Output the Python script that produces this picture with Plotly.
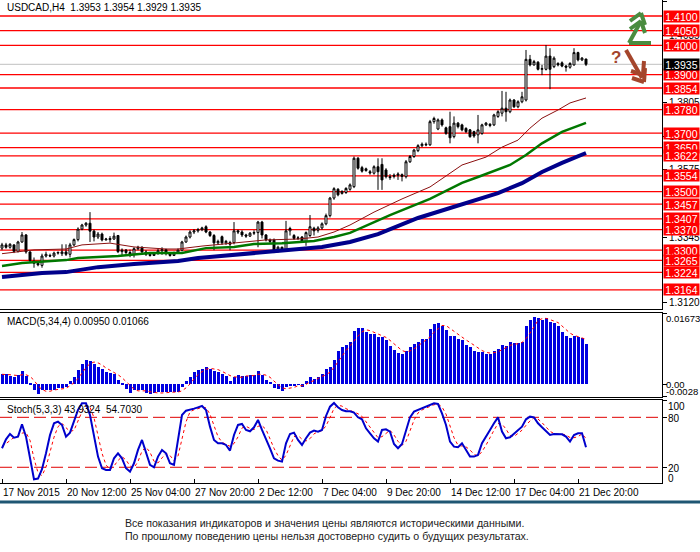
import plotly.graph_objects as go

W, H = 700, 552


def px(x):
    return x / W


def py(y):
    return 1 - y / H


# ---- price data (H4 bars, 17 Nov 20:00 .. 22 Dec 04:00) ----
opens = [1.3307, 1.3318, 1.3310, 1.3318, 1.3296, 1.3328, 1.3352, 1.3294, 1.3262, 1.3255,
         1.3248, 1.3280, 1.3282, 1.3280, 1.3290, 1.3288, 1.3294, 1.3286, 1.3318, 1.3336,
         1.3372, 1.3386, 1.3392, 1.3365, 1.3345, 1.3355, 1.3335, 1.3340, 1.3338, 1.3350,
         1.3295, 1.3300, 1.3292, 1.3285, 1.3305, 1.3310, 1.3294, 1.3286, 1.3282, 1.3288,
         1.3298, 1.3302, 1.3288, 1.3282, 1.3290, 1.3300, 1.3328, 1.3345, 1.3362, 1.3366,
         1.3370, 1.3380, 1.3362, 1.3350, 1.3325, 1.3346, 1.3325, 1.3320, 1.3326, 1.3366,
         1.3362, 1.3352, 1.3348, 1.3358, 1.3360, 1.3396, 1.3352, 1.3335, 1.3335, 1.3300,
         1.3310, 1.3300, 1.3366, 1.3350, 1.3340, 1.3345, 1.3330, 1.3350, 1.3375, 1.3368,
         1.3376, 1.3390, 1.3418, 1.3478, 1.3508, 1.3494, 1.3497, 1.3508, 1.3517, 1.3614,
         1.3582, 1.3572, 1.3568, 1.3563, 1.3585, 1.3593, 1.3574, 1.3551, 1.3552, 1.3556,
         1.3558, 1.3551, 1.3602, 1.3620, 1.3640, 1.3657, 1.3662, 1.3660, 1.3739, 1.3714,
         1.3745, 1.3718, 1.3722, 1.3688, 1.3734, 1.3728, 1.3716, 1.3711, 1.3705, 1.3694,
         1.3699, 1.3728, 1.3730, 1.3728, 1.3757, 1.3768, 1.3785, 1.3773, 1.3813, 1.3790,
         1.3807, 1.3813, 1.3952, 1.3933, 1.3942, 1.3918, 1.3918, 1.3963, 1.3927, 1.3938,
         1.3940, 1.3929, 1.3925, 1.3933, 1.3975, 1.3950, 1.3953]
highs = [1.3325, 1.3325, 1.3324, 1.3320, 1.3332, 1.3362, 1.3355, 1.3296, 1.3275, 1.3262,
         1.3288, 1.3295, 1.3288, 1.3295, 1.3296, 1.3320, 1.3320, 1.3325, 1.3340, 1.3378,
         1.3390, 1.3396, 1.3430, 1.3370, 1.3362, 1.3360, 1.3342, 1.3348, 1.3360, 1.3352,
         1.3306, 1.3304, 1.3302, 1.3310, 1.3315, 1.3313, 1.3300, 1.3292, 1.3294, 1.3304,
         1.3310, 1.3305, 1.3292, 1.3295, 1.3306, 1.3332, 1.3350, 1.3368, 1.3372, 1.3376,
         1.3380, 1.3385, 1.3365, 1.3355, 1.3336, 1.3350, 1.3335, 1.3332, 1.3396, 1.3370,
         1.3368, 1.3356, 1.3362, 1.3368, 1.3400, 1.3400, 1.3355, 1.3340, 1.3340, 1.3315,
         1.3312, 1.3400, 1.3380, 1.3355, 1.3348, 1.3348, 1.3364, 1.3420, 1.3380, 1.3382,
         1.3395, 1.3425, 1.3482, 1.3515, 1.3512, 1.3505, 1.3515, 1.3528, 1.3620, 1.3618,
         1.3588, 1.3582, 1.3574, 1.3590, 1.3614, 1.3614, 1.3580, 1.3560, 1.3562, 1.3566,
         1.3562, 1.3608, 1.3625, 1.3646, 1.3662, 1.3668, 1.3668, 1.3745, 1.3756, 1.3750,
         1.3750, 1.3722, 1.3773, 1.3757, 1.3738, 1.3732, 1.3720, 1.3714, 1.3708, 1.3762,
         1.3732, 1.3738, 1.3734, 1.3766, 1.3778, 1.3844, 1.3841, 1.3818, 1.3816, 1.3812,
         1.3841, 1.3984, 1.3967, 1.3950, 1.3946, 1.3933, 1.4001, 1.3990, 1.3962, 1.3942,
         1.3945, 1.3932, 1.3942, 1.3990, 1.3978, 1.3960, 1.3954]
lows = [1.3300, 1.3305, 1.3305, 1.3290, 1.3292, 1.3325, 1.3288, 1.3258, 1.3240, 1.3245,
        1.3240, 1.3275, 1.3276, 1.3275, 1.3285, 1.3280, 1.3280, 1.3275, 1.3314, 1.3330,
        1.3368, 1.3380, 1.3328, 1.3330, 1.3338, 1.3330, 1.3333, 1.3326, 1.3335, 1.3290,
        1.3282, 1.3285, 1.3276, 1.3275, 1.3300, 1.3288, 1.3280, 1.3278, 1.3280, 1.3285,
        1.3284, 1.3282, 1.3278, 1.3280, 1.3287, 1.3296, 1.3325, 1.3340, 1.3355, 1.3360,
        1.3365, 1.3358, 1.3345, 1.3300, 1.3320, 1.3318, 1.3318, 1.3300, 1.3320, 1.3355,
        1.3345, 1.3342, 1.3345, 1.3352, 1.3310, 1.3340, 1.3330, 1.3322, 1.3290, 1.3292,
        1.3296, 1.3295, 1.3350, 1.3335, 1.3335, 1.3325, 1.3315, 1.3345, 1.3350, 1.3360,
        1.3370, 1.3385, 1.3412, 1.3472, 1.3484, 1.3490, 1.3492, 1.3503, 1.3512, 1.3575,
        1.3565, 1.3568, 1.3558, 1.3558, 1.3506, 1.3506, 1.3545, 1.3540, 1.3545, 1.3540,
        1.3535, 1.3545, 1.3598, 1.3615, 1.3635, 1.3652, 1.3655, 1.3656, 1.3732, 1.3710,
        1.3722, 1.3694, 1.3665, 1.3682, 1.3716, 1.3706, 1.3700, 1.3684, 1.3684, 1.3665,
        1.3694, 1.3724, 1.3720, 1.3724, 1.3752, 1.3757, 1.3739, 1.3768, 1.3786, 1.3785,
        1.3802, 1.3808, 1.3928, 1.3930, 1.3914, 1.3898, 1.3914, 1.3850, 1.3922, 1.3928,
        1.3925, 1.3910, 1.3920, 1.3930, 1.3945, 1.3946, 1.3929]
closes = [1.3318, 1.3310, 1.3320, 1.3296, 1.3328, 1.3352, 1.3294, 1.3265, 1.3255, 1.3250,
          1.3280, 1.3286, 1.3280, 1.3290, 1.3292, 1.3294, 1.3286, 1.3318, 1.3336, 1.3372,
          1.3386, 1.3392, 1.3365, 1.3345, 1.3355, 1.3335, 1.3338, 1.3336, 1.3348, 1.3295,
          1.3300, 1.3292, 1.3285, 1.3305, 1.3310, 1.3294, 1.3286, 1.3282, 1.3288, 1.3298,
          1.3302, 1.3288, 1.3282, 1.3290, 1.3300, 1.3328, 1.3345, 1.3362, 1.3366, 1.3370,
          1.3376, 1.3362, 1.3350, 1.3325, 1.3330, 1.3325, 1.3330, 1.3326, 1.3366, 1.3362,
          1.3352, 1.3348, 1.3358, 1.3360, 1.3396, 1.3352, 1.3335, 1.3330, 1.3300, 1.3310,
          1.3302, 1.3366, 1.3374, 1.3340, 1.3342, 1.3330, 1.3360, 1.3380, 1.3366, 1.3376,
          1.3390, 1.3418, 1.3478, 1.3510, 1.3489, 1.3500, 1.3511, 1.3523, 1.3614, 1.3580,
          1.3570, 1.3578, 1.3564, 1.3585, 1.3568, 1.3540, 1.3551, 1.3548, 1.3556, 1.3560,
          1.3552, 1.3602, 1.3620, 1.3642, 1.3657, 1.3662, 1.3660, 1.3739, 1.3750, 1.3745,
          1.3728, 1.3699, 1.3684, 1.3734, 1.3722, 1.3711, 1.3705, 1.3688, 1.3690, 1.3711,
          1.3728, 1.3734, 1.3726, 1.3762, 1.3773, 1.3785, 1.3773, 1.3813, 1.3790, 1.3807,
          1.3824, 1.3952, 1.3933, 1.3944, 1.3918, 1.3920, 1.3963, 1.3918, 1.3956, 1.3933,
          1.3929, 1.3925, 1.3938, 1.3975, 1.3950, 1.3956, 1.3935]

# moving averages (read at a few bars)
ma_fast_idx = [0, 8, 16, 20, 27, 33, 41, 44, 50, 58, 66, 74, 79, 83, 87, 93, 100, 107,
               112, 115, 121, 125, 129, 132, 135, 139, 142, 146]
ma_fast = [1.3288, 1.3301, 1.3304, 1.3318, 1.3324, 1.3311, 1.3304, 1.3304, 1.3314, 1.3324,
           1.3335, 1.3338, 1.3345, 1.3362, 1.3386, 1.3430, 1.3475, 1.3516, 1.3564, 1.3591,
           1.3618, 1.3652, 1.3676, 1.3717, 1.3751, 1.3779, 1.3803, 1.3820]
ma_mid_idx = [0, 5, 16, 19, 24, 29, 37, 45, 51, 58, 63, 70, 78, 83, 87, 97, 107, 115,
              119, 127, 131, 135, 140, 146]
ma_mid = [1.3246, 1.3256, 1.3266, 1.3273, 1.3277, 1.3280, 1.3290, 1.3290, 1.3307, 1.3311,
          1.3321, 1.3324, 1.3331, 1.3345, 1.3359, 1.3420, 1.3475, 1.3530, 1.3550, 1.3591,
          1.3625, 1.3665, 1.3704, 1.3735]
ma_slow_idx = [0, 10, 16, 24, 33, 44, 49, 58, 66, 74, 80, 87, 94, 104, 112, 119, 124,
               130, 135, 140, 146]
ma_slow = [1.3208, 1.3222, 1.3225, 1.3242, 1.3253, 1.3263, 1.3273, 1.3284, 1.3294, 1.3301,
           1.3311, 1.3328, 1.3355, 1.3410, 1.3444, 1.3475, 1.3495, 1.3529, 1.3567, 1.3598,
           1.3632]

levels = [1.4100, 1.4050, 1.4000, 1.3900, 1.3854, 1.3780, 1.3700, 1.3650, 1.3622,
          1.3554, 1.3500, 1.3457, 1.3407, 1.3370, 1.3300, 1.3265, 1.3224, 1.3164]
price_ticks = [1.3120, 1.3345, 1.3575, 1.3690, 1.3805, 1.4035, 1.4150]

# ---- MACD(5,34,4) ----
macd_hist = [0.0025, 0.0025, 0.0019, 0.0018, 0.0022, 0.0031, 0.0020, 0.0003, -0.0014, -0.0022,
             -0.0013, -0.0014, -0.0013, -0.0012, -0.0009, -0.0008, -0.0005, 0.0009, 0.0018, 0.0035,
             0.0049, 0.0057, 0.0055, 0.0049, 0.0042, 0.0037, 0.0029, 0.0027, 0.0024, 0.0011,
             0.0003, -0.0011, -0.0020, -0.0014, -0.0013, -0.0014, -0.0020, -0.0022, -0.0020, -0.0018,
             -0.0018, -0.0018, -0.0018, -0.0017, -0.0017, -0.0006, 0.0009, 0.0018, 0.0029, 0.0035,
             0.0037, 0.0041, 0.0037, 0.0031, 0.0029, 0.0025, 0.0019, 0.0009, 0.0018, 0.0022,
             0.0019, 0.0019, 0.0022, 0.0022, 0.0031, 0.0022, 0.0011, 0.0005, -0.0008, -0.0011,
             -0.0016, -0.0005, -0.0004, -0.0004, 0.0001, -0.0006, 0.0009, 0.0018, 0.0014, 0.0018,
             0.0024, 0.0037, 0.0041, 0.0057, 0.0080, 0.0088, 0.0094, 0.0101, 0.0127, 0.0133,
             0.0133, 0.0123, 0.0119, 0.0118, 0.0111, 0.0111, 0.0104, 0.0090, 0.0082, 0.0074,
             0.0072, 0.0080, 0.0088, 0.0096, 0.0100, 0.0108, 0.0108, 0.0131, 0.0143, 0.0144,
             0.0139, 0.0129, 0.0115, 0.0115, 0.0108, 0.0104, 0.0094, 0.0088, 0.0080, 0.0076,
             0.0076, 0.0072, 0.0072, 0.0080, 0.0084, 0.0092, 0.0090, 0.0100, 0.0097, 0.0097,
             0.0100, 0.0137, 0.0151, 0.0160, 0.0157, 0.0151, 0.0157, 0.0147, 0.0144, 0.0137,
             0.0123, 0.0115, 0.0109, 0.0115, 0.0111, 0.0110, 0.00950]
macd_signal = [0.0024, 0.0024, 0.0023, 0.0022, 0.0021, 0.0023, 0.0023, 0.0019, 0.0010, -0.0003,
               -0.0012, -0.0016, -0.0016, -0.0013, -0.0012, -0.0011, -0.0009, -0.0003, 0.0004, 0.0014,
               0.0028, 0.0040, 0.0049, 0.0053, 0.0051, 0.0046, 0.0039, 0.0034, 0.0029, 0.0023,
               0.0016, 0.0007, -0.0004, -0.0011, -0.0015, -0.0015, -0.0015, -0.0017, -0.0019, -0.0020,
               -0.0020, -0.0019, -0.0018, -0.0018, -0.0018, -0.0015, -0.0008, 0.0001, 0.0013, 0.0023,
               0.0030, 0.0036, 0.0038, 0.0037, 0.0035, 0.0031, 0.0026, 0.0021, 0.0018, 0.0017,
               0.0017, 0.0020, 0.0021, 0.0021, 0.0024, 0.0024, 0.0022, 0.0017, 0.0008, -0.0001,
               -0.0008, -0.0010, -0.0009, -0.0007, -0.0003, -0.0003, 0.0000, 0.0006, 0.0009, 0.0015,
               0.0019, 0.0023, 0.0029, 0.0040, 0.0054, 0.0067, 0.0080, 0.0091, 0.0103, 0.0114,
               0.0124, 0.0129, 0.0127, 0.0123, 0.0118, 0.0115, 0.0111, 0.0104, 0.0097, 0.0088,
               0.0080, 0.0077, 0.0079, 0.0084, 0.0091, 0.0098, 0.0103, 0.0112, 0.0123, 0.0132,
               0.0139, 0.0139, 0.0132, 0.0125, 0.0117, 0.0111, 0.0105, 0.0099, 0.0092, 0.0085,
               0.0080, 0.0076, 0.0074, 0.0075, 0.0077, 0.0082, 0.0087, 0.0092, 0.0095, 0.0096,
               0.0099, 0.0108, 0.0121, 0.0137, 0.0151, 0.0155, 0.0156, 0.0153, 0.0150, 0.0146,
               0.0138, 0.0130, 0.0121, 0.0116, 0.0113, 0.0111, 0.01066]

# ---- Stochastic(5,3,3) ----
stoch_k = [42.8, 53.6, 60.0, 55.6, 56.8, 71.6, 56.8, 28.8, 5.6, 6.4,
           17.6, 36.8, 58.8, 72.8, 74.8, 70.8, 56.8, 61.6, 74.8, 88.8,
           96.8, 96.8, 82.8, 58.8, 32.8, 18.8, 16.8, 16.8, 30.8, 36.8,
           30.8, 18.8, 14.8, 24.8, 40.8, 52.8, 38.8, 22.8, 20.0, 32.8,
           40.8, 36.8, 24.8, 22.8, 52.8, 82.8, 88.0, 88.8, 90.4, 92.0,
           93.6, 88.8, 68.8, 52.8, 48.8, 48.8, 46.8, 40.0, 58.8, 70.8,
           72.0, 64.8, 63.2, 68.0, 76.8, 64.8, 54.8, 42.8, 30.8, 28.0,
           26.8, 48.8, 60.0, 61.6, 52.8, 46.8, 54.8, 61.6, 64.0, 62.8,
           64.8, 81.6, 92.8, 97.2, 92.0, 88.8, 87.2, 87.2, 85.6, 80.0,
           77.6, 66.8, 60.8, 54.8, 50.8, 64.8, 65.6, 62.8, 48.0, 42.8,
           48.0, 62.8, 80.0, 86.8, 88.8, 90.8, 93.6, 94.8, 96.8, 96.0,
           84.8, 70.8, 50.8, 44.8, 44.0, 48.8, 40.8, 32.8, 32.8, 34.8,
           48.8, 56.0, 64.8, 72.8, 80.0, 62.8, 54.8, 56.0, 60.0, 64.8,
           68.8, 77.6, 80.8, 80.0, 72.8, 68.0, 62.8, 58.8, 60.0, 60.0,
           59.6, 56.8, 50.8, 58.8, 60.8, 60.8, 43.9324]
stoch_d = [45.0, 48.0, 52.0, 56.0, 57.5, 61.0, 61.7, 52.4, 30.4, 13.6,
           9.9, 20.3, 37.7, 56.1, 68.8, 72.8, 67.5, 63.1, 64.4, 75.1,
           86.8, 94.1, 92.1, 79.5, 58.1, 36.8, 22.8, 17.5, 21.5, 28.1,
           32.8, 28.8, 21.5, 19.5, 26.8, 39.5, 44.1, 38.1, 27.2, 25.2,
           31.2, 36.8, 34.1, 28.1, 33.5, 52.8, 74.5, 86.5, 89.1, 90.4,
           92.0, 91.5, 83.7, 70.1, 56.8, 50.1, 48.1, 45.2, 48.5, 56.5,
           67.2, 69.2, 66.7, 65.3, 69.3, 69.9, 65.5, 54.1, 42.8, 33.9,
           28.5, 34.5, 45.2, 56.8, 58.1, 53.7, 51.5, 54.4, 60.1, 62.8,
           63.9, 69.7, 79.7, 90.7, 94.4, 93.5, 90.4, 88.3, 86.7, 84.3,
           81.1, 74.8, 68.4, 60.8, 55.5, 56.8, 60.4, 64.4, 58.8, 51.2,
           46.3, 51.2, 63.6, 76.5, 85.2, 88.8, 91.1, 93.1, 95.1, 95.9,
           92.5, 83.9, 68.8, 55.5, 46.5, 45.9, 44.5, 40.8, 35.5, 33.5,
           38.8, 46.5, 56.5, 64.5, 72.5, 71.9, 65.9, 57.9, 56.9, 60.3,
           64.5, 70.4, 75.7, 79.5, 77.9, 73.6, 67.9, 63.2, 60.5, 59.6,
           59.9, 58.8, 55.7, 55.5, 56.8, 60.1, 54.7030]

time_ticks = [0, 16, 32, 48, 64, 80, 96, 112, 128, 144]
time_labels = ["17 Nov 2015", "20 Nov 12:00", "25 Nov 04:00", "27 Nov 20:00", "2 Dec 12:00",
               "7 Dec 04:00", "9 Dec 20:00", "14 Dec 12:00", "17 Dec 04:00", "21 Dec 20:00"]

bars = list(range(len(closes)))
FONT = "Liberation Sans"

fig = go.Figure()

for lv in levels:
    fig.add_shape(type="line", xref="x", yref="y", x0=-0.5, x1=165, y0=lv, y1=lv,
                  line=dict(color="#ff0000", width=1.3), layer="below")
fig.add_shape(type="line", xref="x", yref="y", x0=-0.5, x1=165, y0=closes[-1], y1=closes[-1],
              line=dict(color="#c0c0c0", width=1), layer="below")

fig.add_trace(go.Scatter(x=ma_slow_idx, y=ma_slow, mode="lines", xaxis="x", yaxis="y",
                         line=dict(color="#00008b", width=4), showlegend=False, hoverinfo="skip"))
fig.add_trace(go.Scatter(x=ma_mid_idx, y=ma_mid, mode="lines", xaxis="x", yaxis="y",
                         line=dict(color="#007800", width=2.5), showlegend=False, hoverinfo="skip"))
fig.add_trace(go.Scatter(x=ma_fast_idx, y=ma_fast, mode="lines", xaxis="x", yaxis="y",
                         line=dict(color="#8b1010", width=1), showlegend=False, hoverinfo="skip"))

fig.add_trace(go.Candlestick(
    x=bars, open=opens, high=highs, low=lows, close=closes, xaxis="x", yaxis="y",
    increasing=dict(line=dict(color="black", width=1), fillcolor="white"),
    decreasing=dict(line=dict(color="black", width=1), fillcolor="black"),
    whiskerwidth=0, showlegend=False, hoverinfo="skip"))

fig.add_trace(go.Bar(x=bars, y=macd_hist, xaxis="x2", yaxis="y2", width=0.75,
                     marker=dict(color="#0000e0", line=dict(width=0)),
                     showlegend=False, hoverinfo="skip"))
fig.add_trace(go.Scatter(x=bars, y=macd_signal, mode="lines", xaxis="x2", yaxis="y2",
                         line=dict(color="#ff0000", width=1, dash="dot"),
                         showlegend=False, hoverinfo="skip"))

for lv in (80, 20):
    fig.add_shape(type="line", xref="x3", yref="y3", x0=-0.5, x1=165, y0=lv, y1=lv,
                  line=dict(color="#e00000", width=1, dash="12px,5px"), layer="below")
fig.add_trace(go.Scatter(x=bars, y=stoch_d, mode="lines", xaxis="x3", yaxis="y3",
                         line=dict(color="#ff0000", width=1, dash="dot"),
                         showlegend=False, hoverinfo="skip"))
fig.add_trace(go.Scatter(x=bars, y=stoch_k, mode="lines", xaxis="x3", yaxis="y3",
                         line=dict(color="#0000cc", width=2),
                         showlegend=False, hoverinfo="skip"))

xdom = [0, px(662)]
xr = [-0.5, 165]
frame = dict(showline=True, mirror=True, linecolor="black", linewidth=1,
             showgrid=False, zeroline=False, automargin=False)
tfont = dict(family=FONT, size=10, color="black")

fig.update_layout(
    width=W, height=H, margin=dict(l=0, r=0, t=0, b=0),
    paper_bgcolor="white", plot_bgcolor="white", bargap=0,
    xaxis=dict(domain=xdom, range=xr, anchor="y", showticklabels=False,
               rangeslider=dict(visible=False), **frame),
    yaxis=dict(domain=[py(309), py(0)], range=[1.3099, 1.41547], anchor="x", side="right",
               tickvals=price_ticks, tickformat=".4f", ticks="outside", ticklen=4,
               tickcolor="black", tickfont=tfont, **frame),
    xaxis2=dict(domain=xdom, range=xr, anchor="y2", matches="x", showticklabels=False, **frame),
    yaxis2=dict(domain=[py(397), py(313)], range=[-0.00295, 0.01685], anchor="x2", side="right",
                tickvals=[0.01673, 0.0, -0.0028], ticks="outside", ticklen=4, tickcolor="black",
                showticklabels=False, **frame),
    xaxis3=dict(domain=xdom, range=xr, anchor="y3", matches="x", tickvals=time_ticks,
                ticktext=time_labels, ticks="inside", ticklen=4, tickcolor="black",
                tickangle=0, ticklabelposition="outside right", tickfont=tfont, **frame),
    yaxis3=dict(domain=[py(483), py(400)], range=[1.1, 100.8], anchor="x3", side="right",
                tickvals=[100, 80, 20], ticks="outside", ticklen=4, tickcolor="black",
                showticklabels=False, **frame),
)

ann = []


def label(x, y, text, size=10, color="black", anchor="left", **kw):
    ann.append(dict(x=px(x), y=py(y), xref="paper", yref="paper", text=text, showarrow=False,
                    xanchor=anchor, yanchor="middle", font=dict(family=FONT, size=size, color=color),
                    **kw))


label(5, 8, "USDCAD,H4 \u00a0%.4f %.4f %.4f %.4f" % (opens[-1], highs[-1], lows[-1], closes[-1]))
label(5, 321, "MACD(5,34,4) %.5f %.5f" % (macd_hist[-1], macd_signal[-1]))
label(5, 409, "Stoch(5,3,3) %.4f \u00a0%.4f" % (stoch_k[-1], stoch_d[-1]))

for txt, yy in (("0.01673", 318), ("0.00", 384), ("-0.0028", 391)):
    label(664, yy, txt, size=9.5)
for txt, yy in (("100", 406), ("80", 418), ("20", 468), ("0", 478)):
    label(666, yy, txt)

for lv in levels:
    ann.append(dict(x=px(663), y=lv, xref="paper", yref="y", text="%.4f" % lv, showarrow=False,
                    xanchor="left", yanchor="middle", bgcolor="#ff0000", width=35, height=11,
                    borderpad=0, font=dict(family=FONT, size=10.5, color="white")))
ann.append(dict(x=px(663), y=closes[-1], xref="paper", yref="y", text="%.4f" % closes[-1],
                showarrow=False, xanchor="left", yanchor="middle", bgcolor="black", width=35,
                height=11, borderpad=0, font=dict(family=FONT, size=10.5, color="white")))

label(616, 57, "<b>?</b>", size=17, color="#a4452c", anchor="center")

label(123, 523, "Все показания индикаторов и значения цены являются историческими данными.",
      size=10.6, color="#222222")
label(123, 536, "По прошлому поведению цены нельзя достоверно судить о будущих результатах.",
      size=10.6, color="#222222")
fig.update_layout(annotations=ann)

# decorative arrows in the top right corner
green = [((629, 43), (651, 43)), ((629, 43), (641, 21)),
         ((630, 21), (641, 13)), ((641, 13), (645, 25)),
         ((630, 29), (641, 21)), ((641, 21), (645, 33))]
brown = [((626, 50), (642, 78)),
         ((632, 78), (644, 82)), ((644, 82), (645, 68)),
         ((631, 71), (643, 75)), ((643, 75), (644, 61))]
for segs, col in ((green, "#4a8c3f"), (brown, "#a4452c")):
    for (x0, y0), (x1, y1) in segs:
        fig.add_shape(type="line", xref="paper", yref="paper", x0=px(x0), y0=py(y0),
                      x1=px(x1), y1=py(y1), line=dict(color=col, width=4))

fig.add_shape(type="line", xref="paper", yref="paper", x0=0, x1=1, y0=py(502), y1=py(502),
              line=dict(color="#1f5673", width=3))

fig.write_html("out.html", config={"displayModeBar": False},
               post_script="document.body.style.margin='0';document.body.style.overflow='hidden';")
